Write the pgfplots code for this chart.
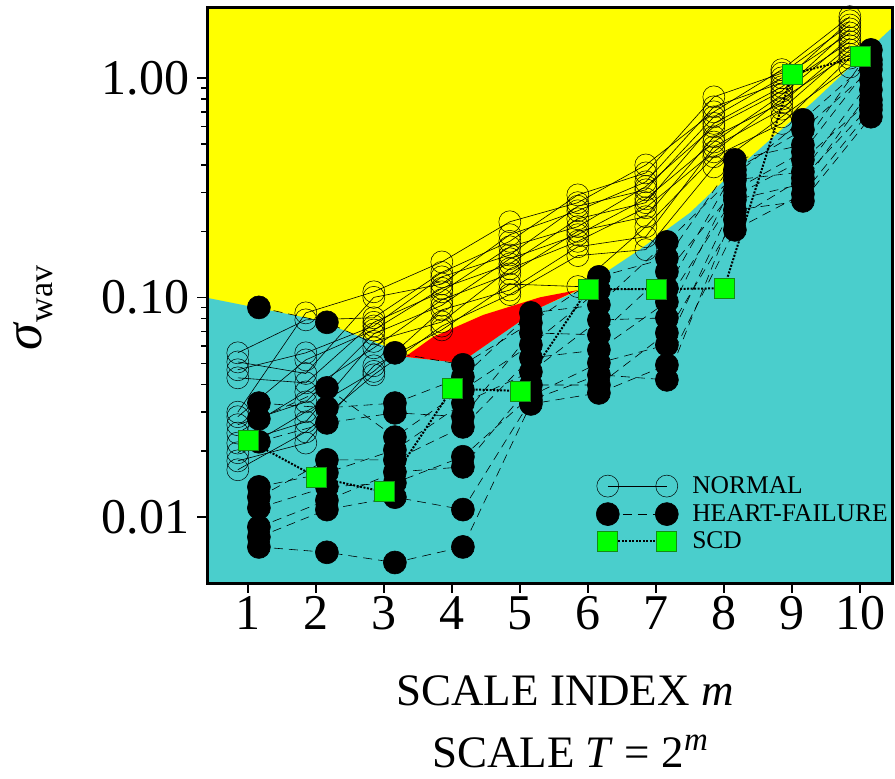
\documentclass[border=0pt]{standalone}
\usepackage{pgfplots}
\pgfplotsset{compat=1.18}
\usepackage{pgfplotstable}
\usepackage{fontspec}
\setmainfont{Liberation Serif}
\definecolor{bgcyan}{RGB}{74,206,204}
\definecolor{bgyellow}{RGB}{255,255,0}
\definecolor{bgred}{RGB}{255,0,0}
\definecolor{scdgreen}{RGB}{0,255,0}
\definecolor{scdedge}{RGB}{20,140,20}

\pgfplotstableread{
m  xn   s1    s2     s3     s4     s5     s6     s7     s8     s9     s10    s11    s12
1  0.85 0.030 0.0559 0.0508 0.0468 0.0430 0.0286 0.0263 0.0241 0.0217 0.0196 0.018  0.0164
2  1.85 0.085 0.079  0.045  0.0559 0.0408 0.0519 0.0334 0.0371 0.0271 0.0301 0.0217 0.0244
3  2.85 0.106 0.0807 0.100  0.0741 0.077  0.071  0.0682 0.0589 0.063  0.046  0.0488 0.0444
4  3.85 0.145 0.130  0.115  0.124  0.106  0.110  0.092  0.0975 0.0773 0.0877 0.0711 0.074
5  4.85 0.221 0.180  0.193  0.156  0.170  0.142  0.150  0.128  0.135  0.108  0.115  0.103
6  5.85 0.270 0.293  0.248  0.260  0.210  0.228  0.193  0.200  0.180  0.170  0.112  0.155
7  6.85 0.401 0.369  0.336  0.309  0.320  0.270  0.281  0.233  0.256  0.189  0.210  0.165
8  7.85 0.700 0.819  0.738  0.664  0.598  0.620  0.510  0.539  0.460  0.485  0.437  0.393
9  8.85 1.09  1.05   0.95   1.00   0.870  0.910  0.837  0.770  0.800  0.720  0.620  0.664
10 9.85 1.90  1.74   1.82   1.60   1.67   1.46   1.52   1.40   1.28   1.34   1.23   1.12
}\normaltab

\pgfplotstableread{
m  xh    h1     h2     h3     h4     h5     h6     h7     h8     h9     h10
1  1.16  0.090  0.033  0.028  0.022  0.0137 0.0123 0.011  0.0090 0.0081 0.0073
2  2.16  0.077  0.0314 0.0387 0.0268 0.0159 0.0182 0.0137 0.0119 0.0108 0.0069
3  3.16  0.0559 0.033  0.0231 0.0298 0.0202 0.0182 0.0143 0.0160 0.0123 0.0062
4  4.16  0.0493 0.0434 0.0379 0.0286 0.033  0.0257 0.0188 0.0169 0.0108 0.0073
5  5.16  0.0766 0.085  0.0608 0.0689 0.0458 0.053  0.0356 0.0399 0.034  0.0327
6  6.16  0.124  0.0925 0.108  0.0675 0.0789 0.0577 0.0503 0.0399 0.0444 0.0367
7  7.16  0.151  0.179  0.110  0.131  0.0807 0.0954 0.0608 0.0689 0.0421 0.0492
8  8.16  0.423  0.360  0.381  0.309  0.343  0.290  0.278  0.226  0.250  0.203
9  9.16  0.495  0.644  0.580  0.460  0.373  0.423  0.329  0.350  0.275  0.296
10 10.16 1.34   1.21   1.09   1.15   0.979  0.794  0.882  0.75   0.665  0.715
}\hftab

\pgfplotstableread{
m  y
1  0.0224
2  0.0152
3  0.0130
4  0.0383
5  0.0375
6  0.109
7  0.109
8  0.110
9  1.04
10 1.25
}\scdtab

\pgfplotsset{
  normalst/.style={black, line width=0.6pt, mark=o, mark size=11pt,
    mark options={solid, line width=0.5pt}},
  hfst/.style={black, line width=0.6pt, dash pattern=on 9pt off 6pt, mark=*,
    mark size=11.5pt, mark options={solid, fill=black}},
  scdst/.style={black, line width=2pt, dash pattern=on 2pt off 1.5pt,
    mark=square*, mark size=10pt,
    mark options={solid, fill=scdgreen, draw=scdedge, line width=0.8pt}},
}

\begin{document}
\begin{tikzpicture}
\begin{axis}[
  at={(207pt,196pt)}, anchor=south west,
  scale only axis, width=685pt, height=575pt,
  xmin=0.397, xmax=10.47, ymin=0.005, ymax=2.08,
  ymode=log,
  axis on top,
  axis background/.style={fill=bgyellow},
  axis line style={line width=3pt},
  xtick={1,2,3,4,5,6,7,8,9,10},
  xticklabels={1,2,3,4,5,6,7,8,9,10},
  ytick={0.01,0.1,1}, yticklabels={0.01,0.10,1.00},
  tick align=outside, tick pos=left,
  major tick length=10pt, minor tick length=6pt,
  every tick/.style={black, line width=1.5pt},
  ticklabel style={font=\fontsize{50}{55}\selectfont},
  yticklabel style={xshift=-4pt},
  legend style={at={(axis description cs:0.568,0.188)}, anchor=north west,
    draw=none, fill=none, font=\fontsize{25.5}{27}\selectfont,
    row sep=5.5pt, column sep=13pt, inner sep=0pt, nodes={inner sep=1pt}},
  legend cell align=left,
  legend image code/.code={\draw[#1] plot coordinates {(0pt,0pt) (59pt,0pt)};},
]
% background regions
\addplot[fill=bgcyan, draw=none, forget plot] coordinates {
  (0.3,0.004) (0.3,0.1) (0.4,0.0995) (2.01,0.079) (3.04,0.0595) (3.31,0.0536)
  (4.12,0.0503) (5.29,0.0897) (5.85,0.107) (6.76,0.165) (7.5,0.243)
  (8.04,0.35) (9.31,0.778) (10.47,1.69) (10.6,1.85) (10.6,0.004)} -- cycle;
\addplot[fill=bgred, draw=none, forget plot] coordinates {
  (3.31,0.0536) (3.72,0.066) (4.46,0.0832) (5.29,0.1) (5.85,0.108)
  (5.29,0.0897) (4.12,0.0503)} -- cycle;
% normal subjects
\pgfplotsinvokeforeach{s1,s2,s3,s4,s5,s6,s7,s8,s9,s10,s11,s12}{
  \addplot[normalst, forget plot] table[x=xn, y=#1] {\normaltab};
}
% heart failure
\pgfplotsinvokeforeach{h1,h2,h3,h4,h5,h6,h7,h8,h9,h10}{
  \addplot[hfst, forget plot] table[x=xh, y=#1] {\hftab};
}
% SCD
\addplot[scdst, forget plot] table[x=m, y=y] {\scdtab};
\addlegendimage{normalst}
\addlegendentry{NORMAL}
\addlegendimage{hfst}
\addlegendentry{HEART-FAILURE}
\addlegendimage{scdst}
\addlegendentry{SCD}
\end{axis}
\node[font=\fontsize{45}{50}\selectfont, anchor=base] at (565pt,73pt) {SCALE INDEX \textit{m}};
\node[font=\fontsize{45}{50}\selectfont, anchor=base] at (570pt,11pt) {SCALE \textit{T} = 2\raisebox{17pt}{\fontsize{33}{35}\selectfont\textit{m}}};
\node[rotate=90, anchor=base] at (41pt,471pt) {\fontsize{54}{60}\selectfont\textit{σ}\raisebox{-11pt}{\fontsize{34}{36}\selectfont wav}};
\pgfresetboundingbox
\path[use as bounding box] (0pt,0pt) rectangle (895pt,779pt);
\end{tikzpicture}
\end{document}
